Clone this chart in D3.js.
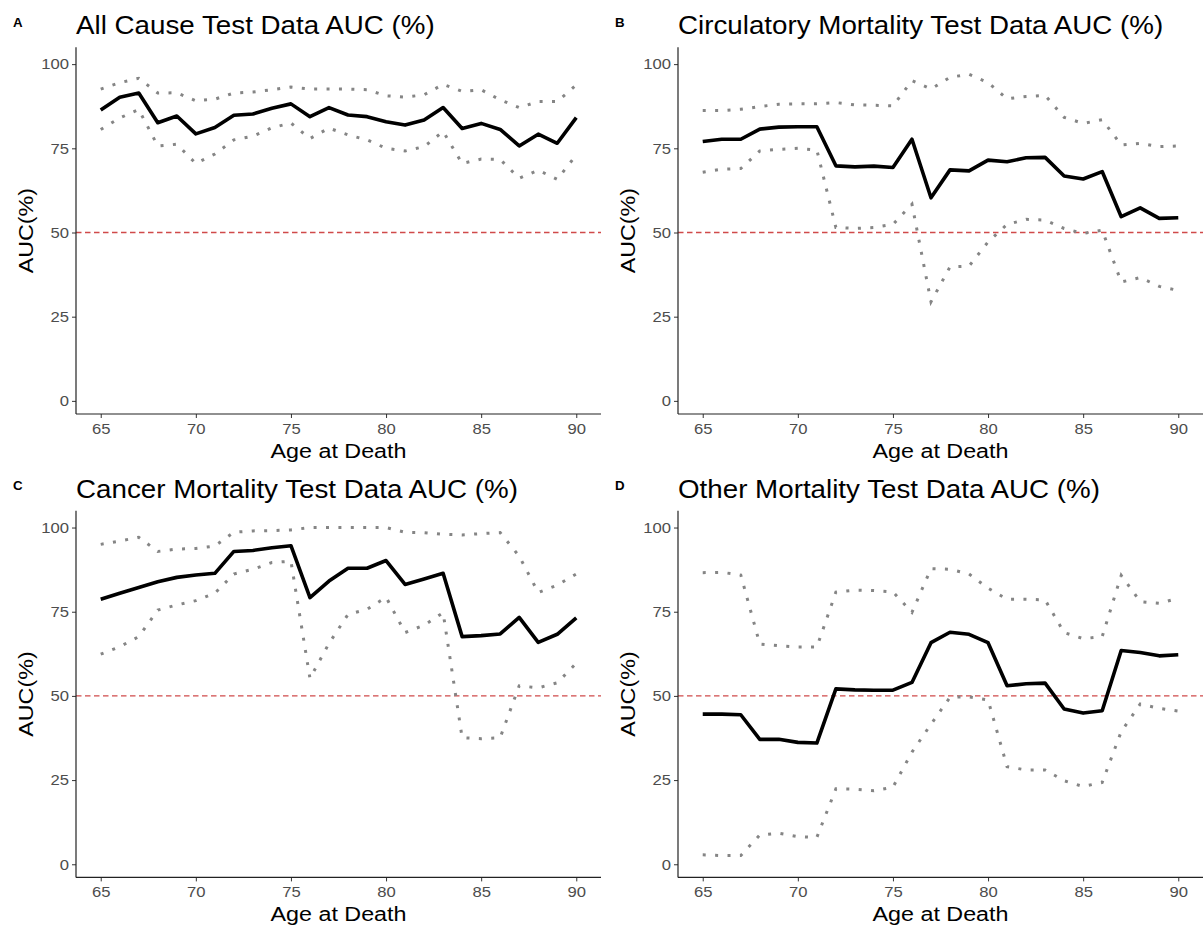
<!DOCTYPE html>
<html><head><meta charset="utf-8">
<script src="https://cdn.jsdelivr.net/npm/d3@7"></script>
<style>body{margin:0;background:#fff}svg{display:block}text{font-family:"Liberation Sans",Arial,sans-serif}</style>
</head><body>
<svg id="chart" width="1203" height="926"></svg>
<script>
const ages = [65,66,67,68,69,70,71,72,73,74,75,76,77,78,79,80,81,82,83,84,85,86,87,88,89,90];
const xTicks = [65,70,75,80,85,90];
const yTicks = [0,25,50,75,100];
const refLine = 50;

const allCauseAUC   = [86.4,90.2,91.4,82.6,84.6,79.3,81.2,84.8,85.2,86.9,88.2,84.4,87.1,84.9,84.4,82.9,81.9,83.4,87.1,80.9,82.4,80.6,75.7,79.2,76.5,84.1];
const allCauseUpper = [92.6,94.5,95.8,91.4,91.5,89.1,89.6,91.4,91.7,92.4,93.2,92.6,92.6,92.6,92.4,90.6,90.2,90.9,94.0,91.9,92.4,89.4,87.1,88.9,88.9,93.8];
const allCauseLower = [80.6,84.0,86.5,75.7,76.2,70.5,73.3,77.5,78.6,81.1,82.5,77.9,81.0,79.0,77.5,75.0,74.2,75.5,80.0,70.5,71.8,71.7,66.1,68.5,65.8,73.0];

const circAUC   = [77.0,77.7,77.7,80.7,81.3,81.4,81.4,69.8,69.5,69.7,69.3,77.7,60.3,68.6,68.3,71.5,71.0,72.2,72.3,66.8,65.9,68.1,54.7,57.3,54.2,54.4];
const circUpper = [86.2,86.2,86.6,87.4,88.1,88.2,88.2,88.6,87.9,87.8,87.6,95.1,92.6,96.1,97.0,94.5,89.7,90.4,90.7,84.2,82.4,83.5,76.0,76.5,75.5,75.7];
const circLower = [67.9,68.8,69.0,74.2,74.7,75.0,74.5,51.5,51.2,51.5,52.4,58.4,29.4,39.8,40.0,47.2,52.4,53.9,53.7,51.2,49.7,50.7,35.3,36.6,34.0,32.8];

const cancerAUC   = [78.7,80.5,82.2,83.9,85.2,85.9,86.4,92.9,93.2,94.0,94.6,79.2,84.1,87.9,87.9,90.2,83.1,84.7,86.4,67.6,67.9,68.4,73.3,65.9,68.3,73.2];
const cancerUpper = [95.0,96.0,97.1,92.9,93.6,93.8,94.5,98.6,99.0,99.1,99.3,100,100,100,100,100,98.6,98.5,98.0,97.8,98.2,98.5,91.5,80.7,82.9,86.2];
const cancerLower = [62.4,64.6,67.6,75.5,77.0,78.3,80.5,86.2,87.6,89.6,90.0,55.2,65.6,74.2,75.7,79.3,68.8,71.0,74.7,37.6,37.3,37.6,53.0,52.4,53.9,59.7];

const otherAUC   = [44.6,44.6,44.4,37.1,37.1,36.2,36.0,52.1,51.8,51.7,51.7,54.0,65.8,68.9,68.3,65.8,53.0,53.6,53.8,46.1,44.9,45.6,63.5,62.9,61.9,62.2];
const otherUpper = [86.6,86.7,85.9,65.4,64.9,64.5,64.5,80.8,81.4,81.3,80.9,74.8,87.8,87.6,86.2,82.0,78.7,78.7,78.5,68.8,67.0,67.6,85.8,78.0,77.5,79.0];
const otherLower = [2.8,2.6,2.6,8.7,9.2,8.2,8.0,22.4,22.3,21.8,22.9,33.3,41.6,49.6,49.7,48.8,29.0,28.0,28.0,24.8,23.1,24.3,39.4,47.6,46.3,45.5];

const panels = [
  {tag:"A", title:"All Cause Test Data AUC (%)", auc:allCauseAUC, up:allCauseUpper, lo:allCauseLower, ox:0, oy:0},
  {tag:"B", title:"Circulatory Mortality Test Data AUC (%)", auc:circAUC, up:circUpper, lo:circLower, ox:602, oy:0},
  {tag:"C", title:"Cancer Mortality Test Data AUC (%)", auc:cancerAUC, up:cancerUpper, lo:cancerLower, ox:0, oy:463.4},
  {tag:"D", title:"Other Mortality Test Data AUC (%)", auc:otherAUC, up:otherUpper, lo:otherLower, ox:602, oy:463.4}
];

const svg = d3.select("#chart");
const L = 76, R = 601, T = 47.3, B = 414;
const SX = 1.11; // horizontal widening of glyphs to match reference font proportions

panels.forEach(p => {
  const g = svg.append("g").attr("transform", `translate(${p.ox},${p.oy})`);
  const x = d3.scaleLinear().domain([63.7, 91.3]).range([L, R]);
  const y = d3.scaleLinear().domain([-3.9, 105]).range([B, T]);

  g.append("line").attr("x1", L).attr("x2", R).attr("y1", y(refLine)).attr("y2", y(refLine))
    .attr("stroke", "#d04a4a").attr("stroke-width", 1.4).attr("stroke-dasharray", "5.5,3.5");

  const line = d3.line().x((d,i) => x(ages[i])).y(d => y(d));
  [p.up, p.lo].forEach(arr => {
    g.append("path").datum(arr).attr("d", line).attr("fill", "none")
      .attr("stroke", "#858585").attr("stroke-width", 3).attr("stroke-dasharray", "3,9.4");
  });
  g.append("path").datum(p.auc).attr("d", line).attr("fill", "none")
    .attr("stroke", "#000").attr("stroke-width", 3.6).attr("stroke-linejoin", "round");

  const xa = g.append("g").attr("transform", `translate(0,${B})`)
    .call(d3.axisBottom(x).tickValues(xTicks).tickSize(4).tickPadding(5).tickFormat(d3.format("d")));
  const ya = g.append("g").attr("transform", `translate(${L},0)`)
    .call(d3.axisLeft(y).tickValues(yTicks).tickSize(4).tickPadding(3).tickFormat(d3.format("d")));
  [xa, ya].forEach(a => {
    a.select(".domain").remove();
    a.selectAll(".tick line").attr("stroke", "#333").attr("stroke-width", 1);
    a.selectAll(".tick text").attr("fill", "#4d4d4d").style("font-size", "15px")
      .style("font-family", '"Liberation Sans",Arial,sans-serif');
  });
  xa.selectAll(".tick text").attr("transform", `scale(${SX},1)`);
  ya.selectAll(".tick text").attr("x", 0).attr("transform", `translate(-7,0) scale(${SX},1)`);

  g.append("line").attr("x1", L).attr("x2", L).attr("y1", T).attr("y2", B)
    .attr("stroke", "#222").attr("stroke-width", 1.2);
  g.append("line").attr("x1", L).attr("x2", R).attr("y1", B).attr("y2", B)
    .attr("stroke", "#222").attr("stroke-width", 1.2);

  g.append("text").attr("transform", `translate(13,26.7) scale(${SX},1)`).text(p.tag)
    .style("font-size", "12px").style("font-weight", "bold");
  g.append("text").attr("transform", `translate(${L},34.3) scale(${SX},1)`).text(p.title)
    .style("font-size", "25px");
  g.append("text").attr("transform", `translate(${(L + R) / 2},458) scale(${SX},1)`)
    .attr("text-anchor", "middle").text("Age at Death").style("font-size", "21px");
  g.append("text").attr("transform", `translate(32.5,${(T + B) / 2}) rotate(-90) scale(${SX},1)`)
    .attr("text-anchor", "middle").text("AUC(%)").style("font-size", "21px");
});
</script>
</body></html>
